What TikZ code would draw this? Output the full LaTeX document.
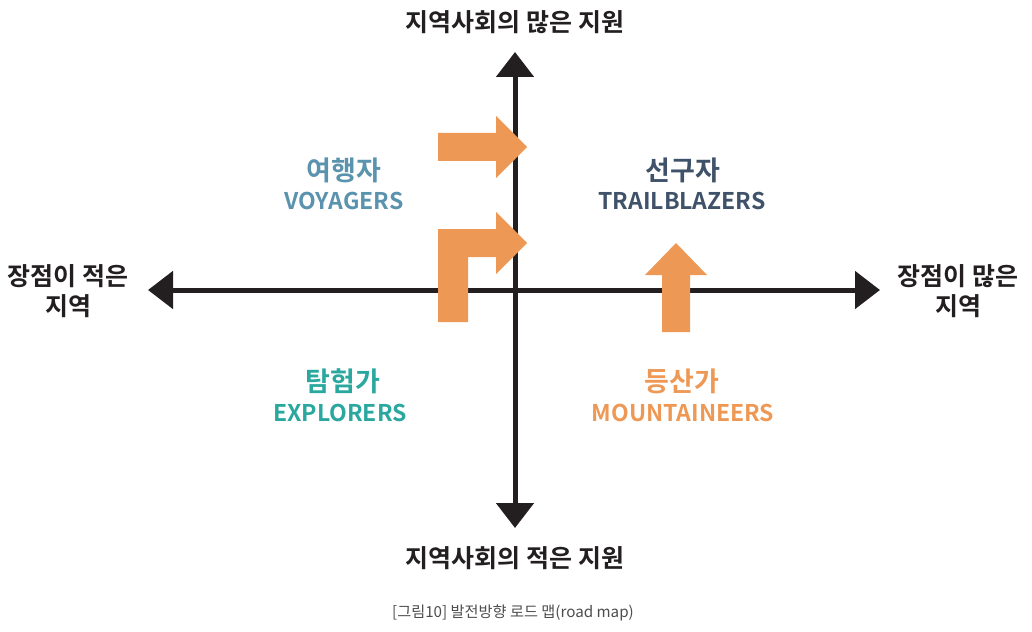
\documentclass[tikz,border=0pt]{standalone}
\usepackage{fontspec}
\usetikzlibrary{arrows.meta}
\newfontfamily\kr{Noto Sans CJK KR}[BoldFont={Noto Sans CJK KR Bold}]
\definecolor{axis}{RGB}{35,31,32}
\definecolor{orng}{RGB}{238,152,85}
\definecolor{voy}{RGB}{90,147,174}
\definecolor{trail}{RGB}{63,82,106}
\definecolor{expl}{RGB}{42,167,158}
\definecolor{capgray}{RGB}{77,77,77}
\tikzset{
  axislab/.style={font=\kr\bfseries\fontsize{25}{30}\selectfont, text=axis, inner sep=0pt, align=center},
  quadko/.style={font=\kr\bfseries\fontsize{27}{30}\selectfont, inner sep=0pt},
  quaden/.style={font=\kr\bfseries\fontsize{23}{30}\selectfont, inner sep=0pt},
  orangearrow/.style={fill=orng, draw=none},
  axisline/.style={line width=5pt, draw=axis, {Triangle[width=37pt,length=25pt]}-{Triangle[width=37pt,length=25pt]}},
  caption/.style={font=\kr\fontsize{15.2}{18}\selectfont, text=capgray, inner sep=0pt}
}
\begin{document}
\begin{tikzpicture}[x=1pt,y=-1pt]
\useasboundingbox (0,0) rectangle (1032,631);
% axes
\coordinate (L) at (148,290);
\coordinate (R) at (880,290);
\coordinate (T) at (515,52);
\coordinate (B) at (515,528);
\draw[axisline] (L) -- (R);
\draw[axisline] (T) -- (B);
% orange arrows
\fill[orangearrow] (438,133) -- (496,133) -- (496,116) -- (527,147) -- (496,178) -- (496,161) -- (438,161) -- cycle;
\fill[orangearrow] (438,322) -- (438,229) -- (496,229) -- (496,212) -- (527,243) -- (496,274) -- (496,257) -- (468,257) -- (468,322) -- cycle;
\fill[orangearrow] (662,332) -- (662,275) -- (645,275) -- (676,243) -- (707,275) -- (690,275) -- (690,332) -- cycle;
% axis labels
\node[axislab] (top) at (515,22) {지역사회의 많은 지원};
\node[axislab] (bottom) at (515,558) {지역사회의 적은 지원};
\node[axislab] (left) at (68,291) {장점이 적은\\지역};
\node[axislab] (right) at (958,291) {장점이 많은\\지역};
% quadrant labels
\node[quadko, text=voy] (voyko) at (344,170) {여행자};
\node[quaden, text=voy] (voyen) at (344,201) {VOYAGERS};
\node[quadko, text=trail] (trailko) at (683,170) {선구자};
\node[quaden, text=trail] (trailen) at (682,201) {TRAILBLAZERS};
\node[quadko, text=expl] (explko) at (343,381) {탐험가};
\node[quaden, text=expl] (explen) at (340,413) {EXPLORERS};
\node[quadko, text=orng] (mntko) at (682,381) {등산가};
\node[quaden, text=orng] (mnten) at (683,413) {MOUNTAINEERS};
% caption
\node[caption] (cap) at (513,613) {[그림10] 발전방향 로드 맵(road map)};
\end{tikzpicture}
\end{document}
